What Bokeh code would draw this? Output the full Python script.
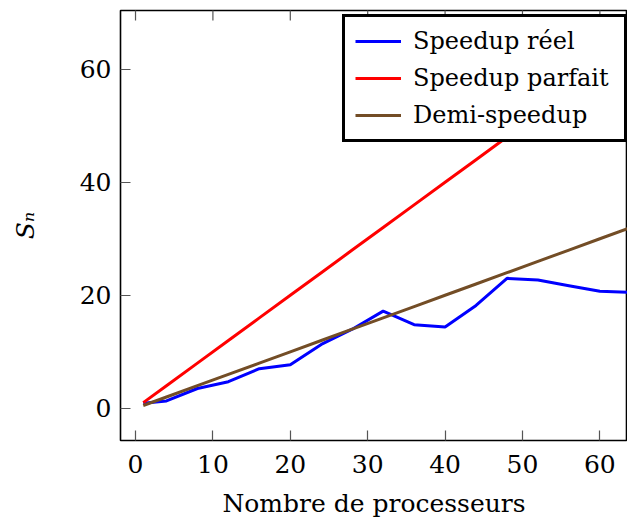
import math
from bokeh.plotting import figure
from bokeh.models import Range1d, Legend, LegendItem, FixedTicker
from bokeh.embed import file_html
from bokeh.resources import INLINE

# ---- data ----
processors = [1, 4, 8, 12, 16, 20, 24, 28, 32, 36, 40, 44, 48, 52, 56, 60, 64]
speedup_reel = [0.9, 1.3, 3.5, 4.7, 7.0, 7.7, 11.3, 14.0, 17.2, 14.8, 14.4, 18.2, 23.0, 22.7, 21.7, 20.7, 20.5]
speedup_parfait = [1, 4, 8, 12, 16, 20, 24, 28, 32, 36, 40, 44, 48, 52, 56, 60, 64]
demi_speedup = [0.5, 2, 4, 6, 8, 10, 12, 14, 16, 18, 20, 22, 24, 26, 28, 30, 32]
series_labels = ["Speedup réel", "Speedup parfait", "Demi-speedup"]
x_ticks = [0, 10, 20, 30, 40, 50, 60]
y_ticks = [0, 20, 40, 60]
x_label = "Nombre de processeurs"
y_label = "Sₙ"

FONT = "DejaVu Serif"
FS = "25px"
X_START, X_END = -1.94, 63.57
Y_START, Y_END = -5.7, 70.4

p = figure(width=627, height=523,
           x_range=Range1d(X_START, X_END), y_range=Range1d(Y_START, Y_END),
           output_backend="svg", toolbar_location=None,
           min_border_left=120, min_border_right=0, min_border_top=10, min_border_bottom=83,
           x_axis_label=x_label, y_axis_label=y_label)

p.grid.visible = False
p.outline_line_color = "black"
p.outline_line_width = 1.6
p.outline_line_alpha = 1
p.background_fill_color = "white"
p.border_fill_color = "white"

for ax in (p.xaxis[0], p.yaxis[0]):
    ax.axis_line_color = None
    ax.major_tick_in = 10
    ax.major_tick_out = 0
    ax.major_tick_line_color = "#555555"
    ax.major_tick_line_width = 1.2
    ax.minor_tick_line_color = None
    ax.major_label_text_font = FONT
    ax.major_label_text_font_size = FS
    ax.major_label_text_color = "black"
    ax.axis_label_text_font = FONT
    ax.axis_label_text_font_size = FS
    ax.axis_label_text_color = "black"

p.xaxis[0].ticker = FixedTicker(ticks=x_ticks)
p.yaxis[0].ticker = FixedTicker(ticks=y_ticks)
p.xaxis[0].major_label_standoff = 14
p.xaxis[0].axis_label_standoff = 13
p.yaxis[0].major_label_standoff = 9
p.yaxis[0].axis_label_standoff = 37
p.yaxis[0].axis_label_text_font_style = "italic"
p.xaxis[0].axis_label_text_font_style = "normal"

# inward tick marks along the top border (half of each dash is clipped by the frame)
p.scatter(x=x_ticks, y=[Y_END] * len(x_ticks), marker="dash", angle=math.pi / 2,
          size=20, line_color="#555555", line_width=1.2)

r1 = p.line(processors, speedup_reel, line_color="#0000ff", line_width=3)
r2 = p.line(processors, speedup_parfait, line_color="#ff0000", line_width=3)
r3 = p.line(processors, demi_speedup, line_color="#734d26", line_width=3)

legend = Legend(items=[LegendItem(label=series_labels[0], renderers=[r1]),
                       LegendItem(label=series_labels[1], renderers=[r2]),
                       LegendItem(label=series_labels[2], renderers=[r3])],
                location=(222, 298), margin=0,
                border_line_color="black", border_line_width=3, border_line_alpha=1,
                background_fill_color="white", background_fill_alpha=1,
                glyph_width=46, glyph_height=20, label_standoff=12,
                padding=10, spacing=9, label_width=201,
                label_text_font=FONT, label_text_font_size="24px", label_text_color="black")
p.add_layout(legend)

open("out.html", "w").write(file_html(p, INLINE))
